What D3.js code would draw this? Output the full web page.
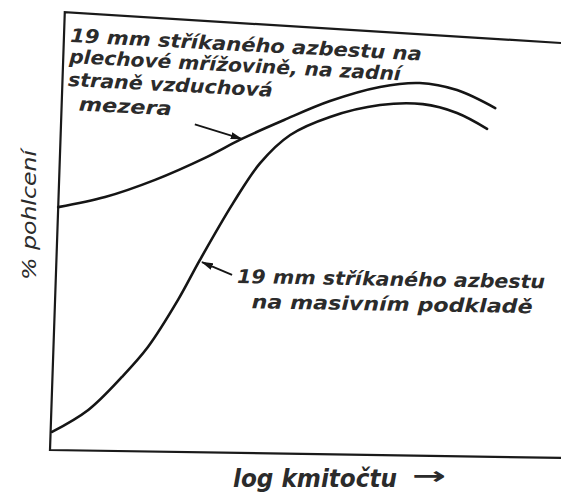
<!DOCTYPE html>
<meta charset="utf-8">
<script src="https://d3js.org/d3.v7.min.js"></script>
<style>
  body { margin: 0; background: #fff; }
  text { font-family: "DejaVu Sans Condensed", "DejaVu Sans", sans-serif; font-style: italic; font-weight: bold; fill: #2b2b2b; }
</style>
<div id="my_dataviz"></div>
<script>

var width = 561, height = 500;

// log frequency (arbitrary units 0-100) and % absorption
var airGapX = [1.6, 10.8, 20.6, 30.4, 37.6, 45.9, 54.9, 64.7, 72.5, 79.8, 87.3];
var airGapY = [55.2, 57.5, 61.4, 66.4, 70.7, 75, 79.3, 82.5, 83.4, 81.8, 77.7];
var solidX = [0.4, 7.5, 14.1, 19.2, 25.1, 29.4, 35.9, 41.2, 47.1, 54.9, 64.7, 73.1, 79.8, 85.7];
var solidY = [4.1, 9.1, 16.6, 23.4, 34.1, 43.2, 56.1, 65.2, 71.6, 75.7, 78.4, 78.6, 76.6, 73];

// frame of the scanned drawing (slightly skewed)
var frameX = [100.2, 2.9, 0, 100.2];
var frameY = [92.5, 99.5, 0, -1.8];

// pointer arrows from the labels to the curves
var airArrowX = [28.4, 37.6], airArrowY = [74, 70.7];
var solidArrowX = [35.7, 29.8], solidArrowY = [39.8, 42.7];

var airGapLabel = ["19 mm stříkaného azbestu na", "plechové mřížovině, na zadní", "straně vzduchová", "mezera"];
var solidLabel = ["19 mm stříkaného azbestu", "na masivním podkladě"];
var xTitle = "log kmitočtu";
var yTitle = "% pohlcení";

var svg = d3.select("#my_dataviz")
  .append("svg")
    .attr("width", width)
    .attr("height", height);

var x = d3.scaleLinear().domain([0, 100]).range([50, 560]);
var y = d3.scaleLinear().domain([0, 100]).range([450, 10]);

function pts(xs, ys) { return xs.map(function(v, i) { return [v, ys[i]]; }); }

// frame
svg.append("path")
  .datum(pts(frameX, frameY))
  .attr("fill", "none")
  .attr("stroke", "#1a1a1a")
  .attr("stroke-width", 2.2)
  .attr("d", d3.line().x(function(d) { return x(d[0]); }).y(function(d) { return y(d[1]); }));

// curves
var curve = d3.line()
  .curve(d3.curveCatmullRom.alpha(0.5))
  .x(function(d) { return x(d[0]); })
  .y(function(d) { return y(d[1]); });

svg.selectAll("mycurves")
  .data([pts(airGapX, airGapY), pts(solidX, solidY)])
  .enter()
  .append("path")
    .attr("fill", "none")
    .attr("stroke", "#151515")
    .attr("stroke-width", 2.6)
    .attr("stroke-linecap", "round")
    .attr("d", curve);

// arrowhead
svg.append("defs").append("marker")
    .attr("id", "head")
    .attr("markerUnits", "userSpaceOnUse")
    .attr("viewBox", "0 0 12 8")
    .attr("refX", 11).attr("refY", 4)
    .attr("markerWidth", 12).attr("markerHeight", 8)
    .attr("orient", "auto")
  .append("path")
    .attr("d", "M0,0.5 L12,4 L0,7.5 Z")
    .attr("fill", "#151515");

svg.selectAll("myarrows")
  .data([pts(airArrowX, airArrowY), pts(solidArrowX, solidArrowY)])
  .enter()
  .append("path")
    .attr("fill", "none")
    .attr("stroke", "#151515")
    .attr("stroke-width", 1.8)
    .attr("marker-end", "url(#head)")
    .attr("d", d3.line().x(function(d) { return x(d[0]); }).y(function(d) { return y(d[1]); }));

// upper label, tilted like the scan
var topLines = [
  {x: 70, y: 42, len: 352},
  {x: 70, y: 63, len: 332},
  {x: 70, y: 86, len: 205},
  {x: 82, y: 110, len: 93}
];
svg.append("g")
    .attr("transform", "rotate(3,70,42)")
  .selectAll("text")
  .data(airGapLabel)
  .enter()
  .append("text")
    .attr("x", function(d, i) { return topLines[i].x; })
    .attr("y", function(d, i) { return topLines[i].y; })
    .attr("textLength", function(d, i) { return topLines[i].len; })
    .attr("lengthAdjust", "spacingAndGlyphs")
    .style("font-size", "19px")
    .text(function(d) { return d; });

var lowLines = [
  {x: 237, y: 283, len: 308},
  {x: 252, y: 308, len: 281}
];
svg.append("g")
    .attr("transform", "rotate(1,237,283)")
  .selectAll("text")
  .data(solidLabel)
  .enter()
  .append("text")
    .attr("x", function(d, i) { return lowLines[i].x; })
    .attr("y", function(d, i) { return lowLines[i].y; })
    .attr("textLength", function(d, i) { return lowLines[i].len; })
    .attr("lengthAdjust", "spacingAndGlyphs")
    .style("font-size", "19px")
    .text(function(d) { return d; });

// axis titles
svg.append("text")
    .attr("x", 233).attr("y", 487)
    .attr("textLength", 164)
    .attr("lengthAdjust", "spacingAndGlyphs")
    .style("font-size", "24px")
    .text(xTitle);
svg.append("text")
    .attr("x", 412).attr("y", 484)
    .attr("textLength", 34)
    .attr("lengthAdjust", "spacingAndGlyphs")
    .style("font-size", "24px")
    .style("font-style", "normal")
    .text("→");

svg.append("text")
    .attr("transform", "translate(36,280) rotate(-90)")
    .attr("textLength", 130)
    .attr("lengthAdjust", "spacingAndGlyphs")
    .style("font-size", "20px")
    .style("font-weight", "normal")
    .text(yTitle);

</script>
